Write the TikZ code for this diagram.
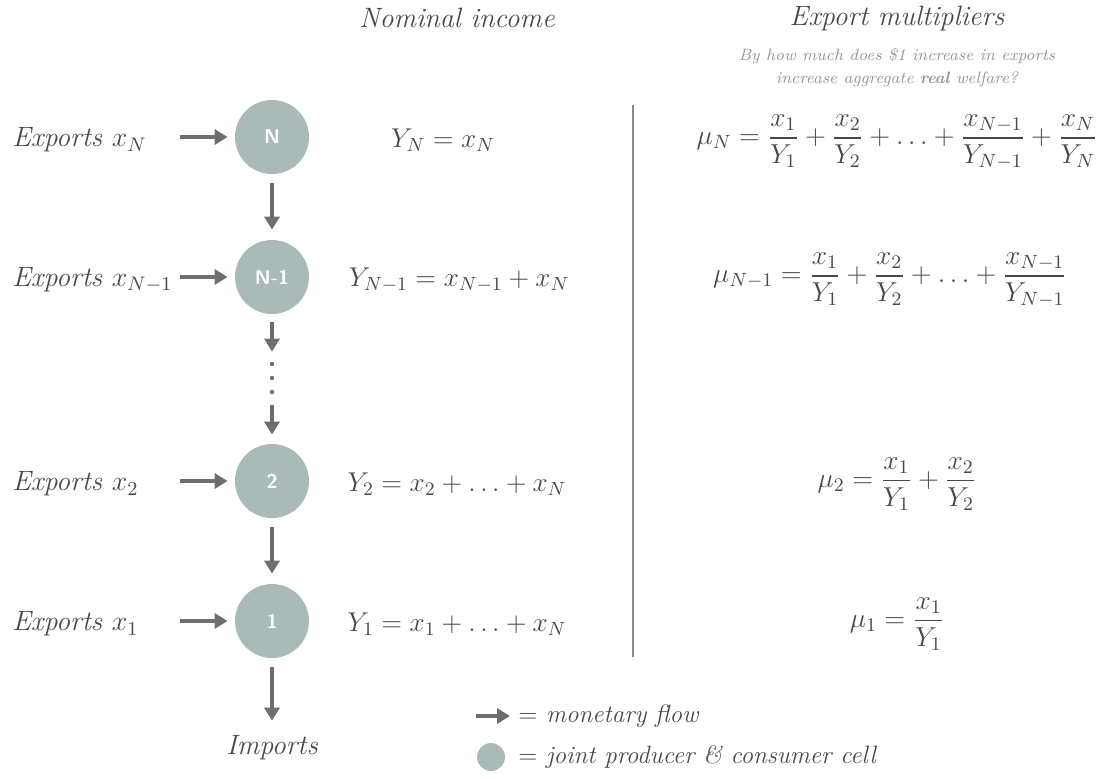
\RequirePackage{fix-cm}
\documentclass[tikz,border=0pt]{standalone}
\usepackage{amsmath}
\usepackage{xcolor}
\usepackage{tikz}
\usetikzlibrary{positioning,arrows.meta}
\definecolor{mfink}{HTML}{484848}
\definecolor{mfarrow}{HTML}{6E6E6E}
\definecolor{mfcell}{HTML}{A9BAB9}
\definecolor{mfnote}{HTML}{959595}
\definecolor{mfrule}{HTML}{8C8C8C}

\begin{document}
\begin{tikzpicture}[
  x=0.5pt, y=-0.5pt,
  font=\fontsize{14}{17}\selectfont\itshape, text=mfink,
  cell/.style={circle, fill=mfcell, minimum size=37pt, inner sep=0pt,
    text=white, font=\sffamily\bfseries\fontsize{10}{12}\selectfont},
  flow/.style={-{Triangle[length=6.5pt,width=7.5pt]}, line width=1.8pt,
    draw=mfarrow},
  inflow/.style={flow, shorten >=3.5pt},
  downflow/.style={flow, shorten <=4.5pt, shorten >=5pt},
  exlbl/.style={anchor=west, inner sep=0pt},
  hdr/.style={font=\fontsize{14}{17}\selectfont\itshape},
  nominal/.style={font=\fontsize{13.6}{16}\selectfont},
  mult/.style={font=\fontsize{13.7}{16}\selectfont},
  legend/.style={exlbl, font=\fontsize{12.5}{15}\selectfont\itshape},
  ]
  \useasboundingbox (0,0) rectangle (1102,778);

  % column headers
  \node[hdr] (hnom) at (457,18) {Nominal income};
  \node[hdr] (hmul) at (897,18) {Export multipliers};
  \node[align=center, text=mfnote, font=\fontsize{8.2}{11.5}\selectfont\itshape]
    (hq) at (897,68) {By how much does \$1 increase in exports\\
    increase aggregate \textbf{real} welfare?};

  % chain of cells
  \node[cell] (cN) at (272,137) {N};
  \node[cell] (cNm) at (272,277) {N-1};
  \node[minimum height=26.5pt, minimum width=6pt, inner sep=0pt] (gap) at (272,378.5) {};
  \node[cell] (c2) at (272,481) {2};
  \node[cell] (c1) at (272,621) {1};
  \node (imp) at (272,748) {Imports};
  \foreach \y in {364,378,392}
    \fill[mfarrow] (272,\y) circle (1.1pt);

  % exports
  \node[exlbl] (xN) at (12,140) {Exports $x_N$};
  \node[exlbl] (xNm) at (12,280) {Exports $x_{N-1}$};
  \node[exlbl] (x2) at (12,484) {Exports $x_2$};
  \node[exlbl] (x1) at (12,624) {Exports $x_1$};
  \coordinate (inN) at (180,137);
  \coordinate (inNm) at (180,277);
  \coordinate (in2) at (180,481);
  \coordinate (in1) at (180,621);
  \draw[inflow] (inN) -- (cN);
  \draw[inflow] (inNm) -- (cNm);
  \draw[inflow] (in2) -- (c2);
  \draw[inflow] (in1) -- (c1);

  \draw[downflow] (cN) -- (cNm);
  \draw[flow, shorten <=4pt] (cNm) -- (gap);
  \draw[flow, shorten >=4.5pt] (gap) -- (c2);
  \draw[downflow] (c2) -- (c1);
  \draw[flow, shorten <=4.5pt, shorten >=4pt] (c1) -- (imp);

  % nominal income
  \node[nominal] (yN) at (443,140) {$Y_N = x_N$};
  \node[nominal] (yNm) at (459,280) {$Y_{N-1} = x_{N-1} + x_N$};
  \node[nominal] (y2) at (457,484) {$Y_2 = x_2 + \ldots + x_N$};
  \node[nominal] (y1) at (457,624) {$Y_1 = x_1 + \ldots + x_N$};

  \draw[mfrule, line width=0.7pt] (633,105) -- (633,657);

  % multipliers
  \node[mult] (mN) at (897,142) {$\mu_N = \dfrac{x_1}{Y_1} + \dfrac{x_2}{Y_2} + \ldots
    + \dfrac{x_{N-1}}{Y_{N-1}} + \dfrac{x_N}{Y_N}$};
  \node[mult] (mNm) at (890,280) {$\mu_{N-1} = \dfrac{x_1}{Y_1} + \dfrac{x_2}{Y_2} + \ldots
    + \dfrac{x_{N-1}}{Y_{N-1}}$};
  \node[mult] (m2) at (897,484) {$\mu_2 = \dfrac{x_1}{Y_1} + \dfrac{x_2}{Y_2}$};
  \node[mult] (m1) at (897,624) {$\mu_1 = \dfrac{x_1}{Y_1}$};

  % legend
  \coordinate (lgS) at (476,716);
  \coordinate (lgE) at (510,716);
  \draw[flow] (lgS) -- (lgE);
  \node[legend] (lgflow) at (518,716) {$=$ monetary flow};
  \node[cell, minimum size=14pt] (lgcell) at (491,757) {};
  \node[legend] (lgtext) at (518,757) {$=$ joint producer \& consumer cell};
\end{tikzpicture}
\end{document}
